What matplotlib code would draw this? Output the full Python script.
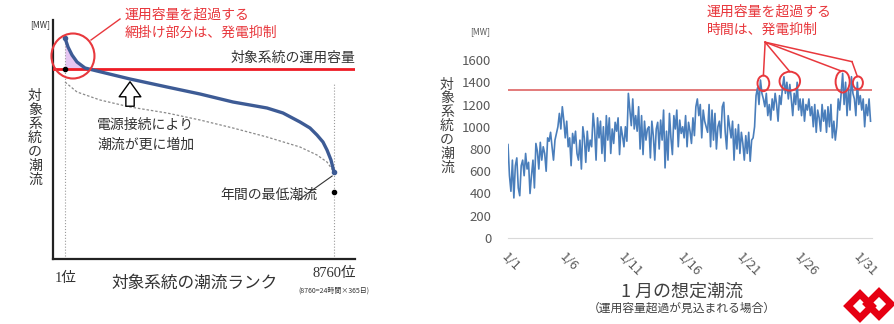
import numpy as np
import matplotlib
matplotlib.use('Agg')
import matplotlib.pyplot as plt
from matplotlib.patches import Ellipse, FancyArrowPatch, Polygon

plt.rcParams['font.family'] = ['Noto Sans CJK JP', 'DejaVu Sans']

# --- left chart: duration curve (rank vs flow, arbitrary units) ---
rank_after = [1, 99, 229, 392, 652, 1043, 2118, 3322, 4397, 5471, 6578, 7099,
              7653, 7978, 8206, 8401, 8532, 8662, 8760]
flow_after = [221, 212, 204, 197, 191, 188, 180, 172, 165, 157, 151, 146,
              137, 131, 124, 117, 109, 99, 87]
rank_before = [1, 392, 1141, 2118, 3322, 4397, 5471, 6578, 7653, 8206, 8532, 8760]
flow_before = [177, 167, 159, 152, 146, 139, 131, 122, 112, 104, 97, 87]
capacity_left = 190
min_point = 67

# --- right chart: January hourly flow (3-hourly samples) ---
jan_flow = [
    840, 560, 420, 700, 360, 650, 720, 450,
    380, 650, 700, 560, 760, 620, 680, 400,
    560, 700, 450, 850, 780, 620, 860, 700,
    820, 760, 600, 900, 870, 950, 820, 700,
    880, 940, 1000, 1120, 980, 1180, 1060, 900,
    1050, 820, 900, 650, 940, 850, 960, 760,
    700, 880, 620, 1000, 900, 680, 960, 780,
    880, 820, 1120, 980, 700, 1080, 900, 1050,
    760, 1000, 690, 1100, 880, 1080, 760, 980,
    850, 1040, 960, 1080, 750, 1000, 920, 820,
    1000, 870, 1300, 1150, 1010, 1250, 980, 1100,
    960, 1180, 800, 1100, 750, 1050, 880, 980,
    1000, 720, 1050, 920, 700, 980, 1040, 800,
    1060, 880, 1150, 630, 960, 700, 1120, 900,
    750, 1100, 980, 1150, 820, 1060, 940, 1000,
    900, 1100, 820, 1040, 960, 850, 1080, 920,
    1180, 1250, 1100, 1200, 900, 1150, 1050, 1000,
    950, 1200, 820, 1150, 880, 1120, 800, 1000,
    1050, 900, 1180, 1220, 950, 800, 1100, 1000,
    900, 1050, 700, 980, 800, 1020, 760, 950,
    850, 700, 920, 760, 950, 690, 880, 900,
    1000, 1280, 1350, 1200, 1420, 1300, 1250, 1180,
    1300, 1100, 1200, 1060, 1250, 1150, 1300, 1200,
    1050, 1280, 1200, 1350, 1450, 1300, 1400, 1250,
    1380, 1250, 1100, 1300, 1200, 1400, 1150, 1250,
    1100, 1250, 1050, 1200, 1150, 1250, 1100, 1180,
    1000, 1200, 950, 1150, 1080, 960, 1200, 1050,
    1150, 950, 1180, 1000, 1200, 900, 1050, 880,
    1000, 1250, 1150, 1300, 1480, 1200, 1400, 1100,
    1350, 1150, 1450, 1300, 1250, 1100, 1400, 1200,
    1280, 1150, 1250, 1000, 1200, 1100, 1250, 1050,
]
capacity_right = 1330
date_ticks = [0, 5, 10, 15, 20, 25, 30]
date_labels = ['1/1', '1/6', '1/11', '1/16', '1/21', '1/26', '1/31']
yticks_right = [0, 200, 400, 600, 800, 1000, 1200, 1400, 1600]
# over-capacity circles: (day, MW, width in days, height in MW)
circles = [(21.75, 1390, 1.0, 140), (24.0, 1410, 1.75, 170),
           (28.5, 1405, 1.2, 195), (29.8, 1395, 0.85, 115)]

W, H = 895, 324
fig = plt.figure(figsize=(W / 100, H / 100), dpi=100)
fig.patch.set_facecolor('white')

def fx(x):
    return x / W

def fy(y):
    return 1 - y / H

RED = '#e8383d'
DARK = '#333333'

# ================= left chart =================
ax1 = fig.add_axes([fx(53), fy(259), fx(302), 239 / H])
ax1.set_xlim(-390, 9444)
ax1.set_ylim(0, 239)
for s in ['top', 'right']:
    ax1.spines[s].set_visible(False)
for s in ['left', 'bottom']:
    ax1.spines[s].set_linewidth(1.6)
    ax1.spines[s].set_color('#222222')
ax1.set_xticks([])
ax1.set_yticks([])

ra = np.array(rank_after)
fa = np.array(flow_after)
ax1.fill_between(ra, fa, capacity_left, where=fa >= capacity_left,
                 interpolate=True, color='#e6c6f2', lw=0, zorder=1)
ax1.plot([1, 1], [0, 221], color='#9a9a9a', lw=0.8, ls=':', zorder=1)
ax1.plot([8760, 8760], [0, 176], color='#9a9a9a', lw=0.8, ls=':', zorder=1)
ax1.plot(rank_before, flow_before, color='#8a8a8a', lw=0.9, ls=(0, (2, 1.5)), zorder=2)
ax1.axhline(capacity_left, color='#ee1c25', lw=2.0, zorder=3)
ax1.plot(rank_after, flow_after, color='#3d5b95', lw=2.4, zorder=4)
ax1.plot([1, 8760], [221, 87], 'o', color='#3d5b95', ms=3, zorder=5)
ax1.plot([1, 8760], [capacity_left, min_point], 'o', color='black', ms=3, zorder=5)

ax1.add_patch(Ellipse((260, 203), 1400, 45, fill=False, ec=RED, lw=1.5,
                      clip_on=False, zorder=6))
ax1.plot([848, 1792], [219, 240], color=RED, lw=1.0, clip_on=False)
ax1.add_patch(FancyArrowPatch((2118, 150), (2118, 180),
                              arrowstyle='simple,head_width=1.3,head_length=0.9,tail_width=0.5',
                              mutation_scale=12, fc='white', ec='black', lw=1.0, zorder=6))
ax1.plot([7600, 8700], [59, 83], color=DARK, lw=0.8)

fig.text(fx(40), fy(25), '[MW]', fontsize=6, color=DARK, ha='center', va='center')
fig.text(fx(125), fy(15), '運用容量を超過する', fontsize=10, color=RED, va='center')
fig.text(fx(125), fy(33), '網掛け部分は、発電抑制', fontsize=10, color=RED, va='center')
fig.text(fx(355), fy(58), '対象系統の運用容量', fontsize=10, color=DARK, ha='right', va='center')
fig.text(fx(97), fy(125), '電源接続により', fontsize=10, color=DARK, va='center')
fig.text(fx(97), fy(145), '潮流が更に増加', fontsize=10, color=DARK, va='center')
fig.text(fx(220), fy(195), '年間の最低潮流', fontsize=10, color=DARK, va='center')
fig.text(fx(35), fy(138), '\n'.join('対象系統の潮流'), fontsize=10, color=DARK,
         ha='center', va='center', linespacing=1.0)
fig.text(fx(66), fy(278), '1位', fontsize=10.5, color=DARK, ha='center', va='center',
         family=['Liberation Serif', 'Noto Sans CJK JP'])
fig.text(fx(195), fy(283), '対象系統の潮流ランク', fontsize=12, color=DARK, ha='center', va='center')
fig.text(fx(334), fy(273), '8760位', fontsize=10.5, color=DARK, ha='center', va='center',
         family=['Liberation Serif', 'Noto Sans CJK JP'])
fig.text(fx(334), fy(291), '(8760=24時間×365日)', fontsize=5, color=DARK, ha='center', va='center')

# ================= right chart =================
ax2 = fig.add_axes([fx(508), fy(238), fx(364), 178 / H])
days = np.arange(len(jan_flow)) / 8
ax2.plot(days, jan_flow, color='#4a7ebb', lw=1.2, zorder=3)
ax2.axhline(capacity_right, color='#e07070', lw=1.3, zorder=2)
ax2.set_xlim(0, 31)
ax2.set_ylim(0, 1600)
for s in ['top', 'right', 'left']:
    ax2.spines[s].set_visible(False)
ax2.spines['bottom'].set_color('#d9d9d9')
ax2.set_yticks(yticks_right)
ax2.tick_params(axis='y', length=0, pad=12, labelsize=9.5, labelcolor='#595959')
ax2.set_xticks(date_ticks)
ax2.set_xticklabels(date_labels, rotation=-45, ha='left', rotation_mode='anchor')
ax2.tick_params(axis='x', length=0, pad=9, labelsize=9.5, labelcolor='#595959')

for cx, cy, w, h in circles:
    ax2.add_patch(Ellipse((cx, cy), w, h, fill=False, ec=RED, lw=1.4, zorder=5))
apex = (21.9, 1760)
for tx, ty in [(21.75, 1460), (24.0, 1495), (28.4, 1500), (29.3, 1585)]:
    ax2.plot([apex[0], tx], [apex[1], ty], color=RED, lw=1.1, clip_on=False)
ax2.plot([29.3, 29.75], [1585, 1452], color=RED, lw=1.1, clip_on=False)

fig.text(fx(707), fy(12), '運用容量を超過する', fontsize=10, color=RED, va='center')
fig.text(fx(707), fy(30), '時間は、発電抑制', fontsize=10, color=RED, va='center')
fig.text(fx(480), fy(32), '[MW]', fontsize=6, color='#595959', ha='center', va='center')
fig.text(fx(447), fy(126), '\n'.join('対象系統の潮流'), fontsize=10, color='#404040',
         ha='center', va='center', linespacing=0.98)
fig.text(fx(682), fy(292), '1 月の想定潮流', fontsize=13, color='#404040', ha='center', va='center')
fig.text(fx(682), fy(308), '（運用容量超過が見込まれる場合）', fontsize=8.5, color='#404040',
         ha='center', va='center')

# logo, bottom right corner
for cx, cy in [(860, 306), (879, 304)]:
    pts = [(fx(cx), fy(cy - 12)), (fx(cx + 12), fy(cy)), (fx(cx), fy(cy + 12)), (fx(cx - 12), fy(cy))]
    fig.patches.append(Polygon(pts, closed=True, fill=False, ec='#e60012', lw=5,
                               transform=fig.transFigure, figure=fig))

fig.savefig('out.png', dpi=100, facecolor='white')
